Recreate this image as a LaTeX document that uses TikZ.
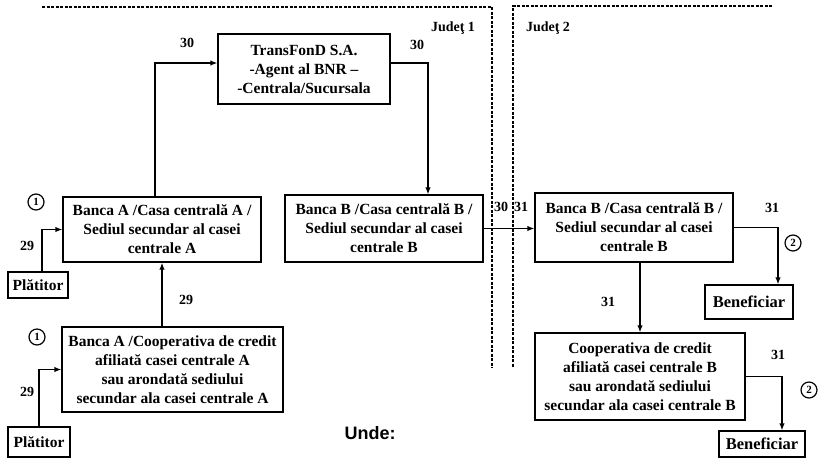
\documentclass[tikz,border=0pt]{standalone}
\usepackage{fontspec}
\setmainfont{Liberation Serif}
\newfontfamily\undefont{Liberation Sans}
\usetikzlibrary{arrows.meta,calc}
\begin{document}
\begin{tikzpicture}[x=1pt,y=-1pt,
  box/.style={draw,line width=1.3pt,inner sep=0pt,align=center,font=\fontsize{15.5}{19}\selectfont\bfseries},
  endbox/.style={box,font=\fontsize{16.5}{19}\selectfont\bfseries},
  lbl/.style={font=\fontsize{14}{16}\selectfont\bfseries,inner sep=0pt},
  num/.style={draw,circle,line width=1.2pt,inner sep=0.5pt,minimum size=16pt,font=\fontsize{11}{11}\selectfont\bfseries},
  arr/.style={line width=1.3pt,-{Latex[length=7pt,width=5.5pt]}},
  border/.style={line width=1.1pt,dash pattern=on 3pt off 1.5pt}]
\useasboundingbox (0,0) rectangle (818,459);

% county borders
\coordinate (d1a) at (42,7);
\coordinate (d1b) at (492,7);
\coordinate (d1c) at (492,368);
\coordinate (d2a) at (772,6);
\coordinate (d2b) at (513,6);
\coordinate (d2c) at (513,368);
\draw[border] (d1a) -- (d1b) -- (d1c);
\draw[border] (d2a) -- (d2b) -- (d2c);

% boxes
\node[box,minimum width=172pt,minimum height=70pt] (trans) at (304,69) {TransFonD S.A.\\-Agent al BNR –\\-Centrala/Sucursala};
\node[box,minimum width=198pt,minimum height=65pt] (bancaA) at (162,229.5) {Banca A /Casa centrală A /\\Sediul secundar al casei\\centrale A};
\node[box,minimum width=198pt,minimum height=67pt] (bancaBL) at (384,228.5) {Banca B /Casa centrală B /\\Sediul secundar al casei\\centrale B};
\node[box,minimum width=198pt,minimum height=69pt] (bancaBR) at (634,227.5) {Banca B /Casa centrală B /\\Sediul secundar al casei\\centrale B};
\node[box,minimum width=221pt,minimum height=85pt] (coopA) at (172.5,369.5) {Banca A /Cooperativa de credit\\afiliată casei centrale A\\sau arondată sediului\\secundar ala casei centrale A};
\node[box,minimum width=210pt,minimum height=87pt] (coopB) at (640,376.5) {Cooperativa de credit\\afiliată casei centrale B\\sau arondată sediului\\secundar ala casei centrale B};
\node[box,minimum width=60pt,minimum height=26pt] (plat1) at (38,285) {Plătitor};
\node[box,minimum width=62pt,minimum height=30pt] (plat2) at (39,442) {Plătitor};
\node[endbox,minimum width=88pt,minimum height=34pt] (ben1) at (749,302) {Beneficiar};
\node[endbox,minimum width=86pt,minimum height=26pt] (ben2) at (762,444) {Beneficiar};

% connectors
\draw[arr] ([xshift=-7pt]bancaA.north) |- ([yshift=6pt]trans.west);
\draw[arr] ([yshift=6pt]trans.east) -| ([xshift=44pt]bancaBL.north);
\draw[arr] (bancaBL.east) -- (bancaBL.east -| bancaBR.west);
\draw[arr] (bancaBR.east) -| ([xshift=29pt]ben1.north);
\draw[arr] (bancaBR.south -| coopB.north) -- (coopB.north);
\draw[arr] (coopB.east) -| ([xshift=20pt]ben2.north);
\draw[arr] (bancaA.south |- coopA.north) -- (bancaA.south);
\draw[arr] ([xshift=4pt]plat1.north) |- (bancaA.west);
\draw[arr] (plat2.north) |- (coopA.west);

% labels
\node[lbl] (l30a) at (187,43) {30};
\node[lbl] (l30b) at (417,45) {30};
\node[lbl] (j1) at (453,28) {Judeţ 1};
\node[lbl] (j2) at (548,28) {Judeţ 2};
\node[lbl] (l30c) at (501,207) {30};
\node[lbl] (l31a) at (521,207) {31};
\node[lbl] (l31b) at (772,208) {31};
\node[lbl] (l31c) at (608,302) {31};
\node[lbl] (l31d) at (778,355) {31};
\node[lbl] (l29a) at (27,246) {29};
\node[lbl] (l29b) at (186,300) {29};
\node[lbl] (l29c) at (27,392) {29};
\node[num] (c1a) at (36,202) {1};
\node[num] (c1b) at (37,337) {1};
\node[num] (c2a) at (793,243) {2};
\node[num] (c2b) at (809,390) {2};
\node[font=\undefont\fontsize{18}{18}\selectfont\bfseries,inner sep=0pt] (unde) at (370,433) {Unde:};
\end{tikzpicture}
\end{document}
